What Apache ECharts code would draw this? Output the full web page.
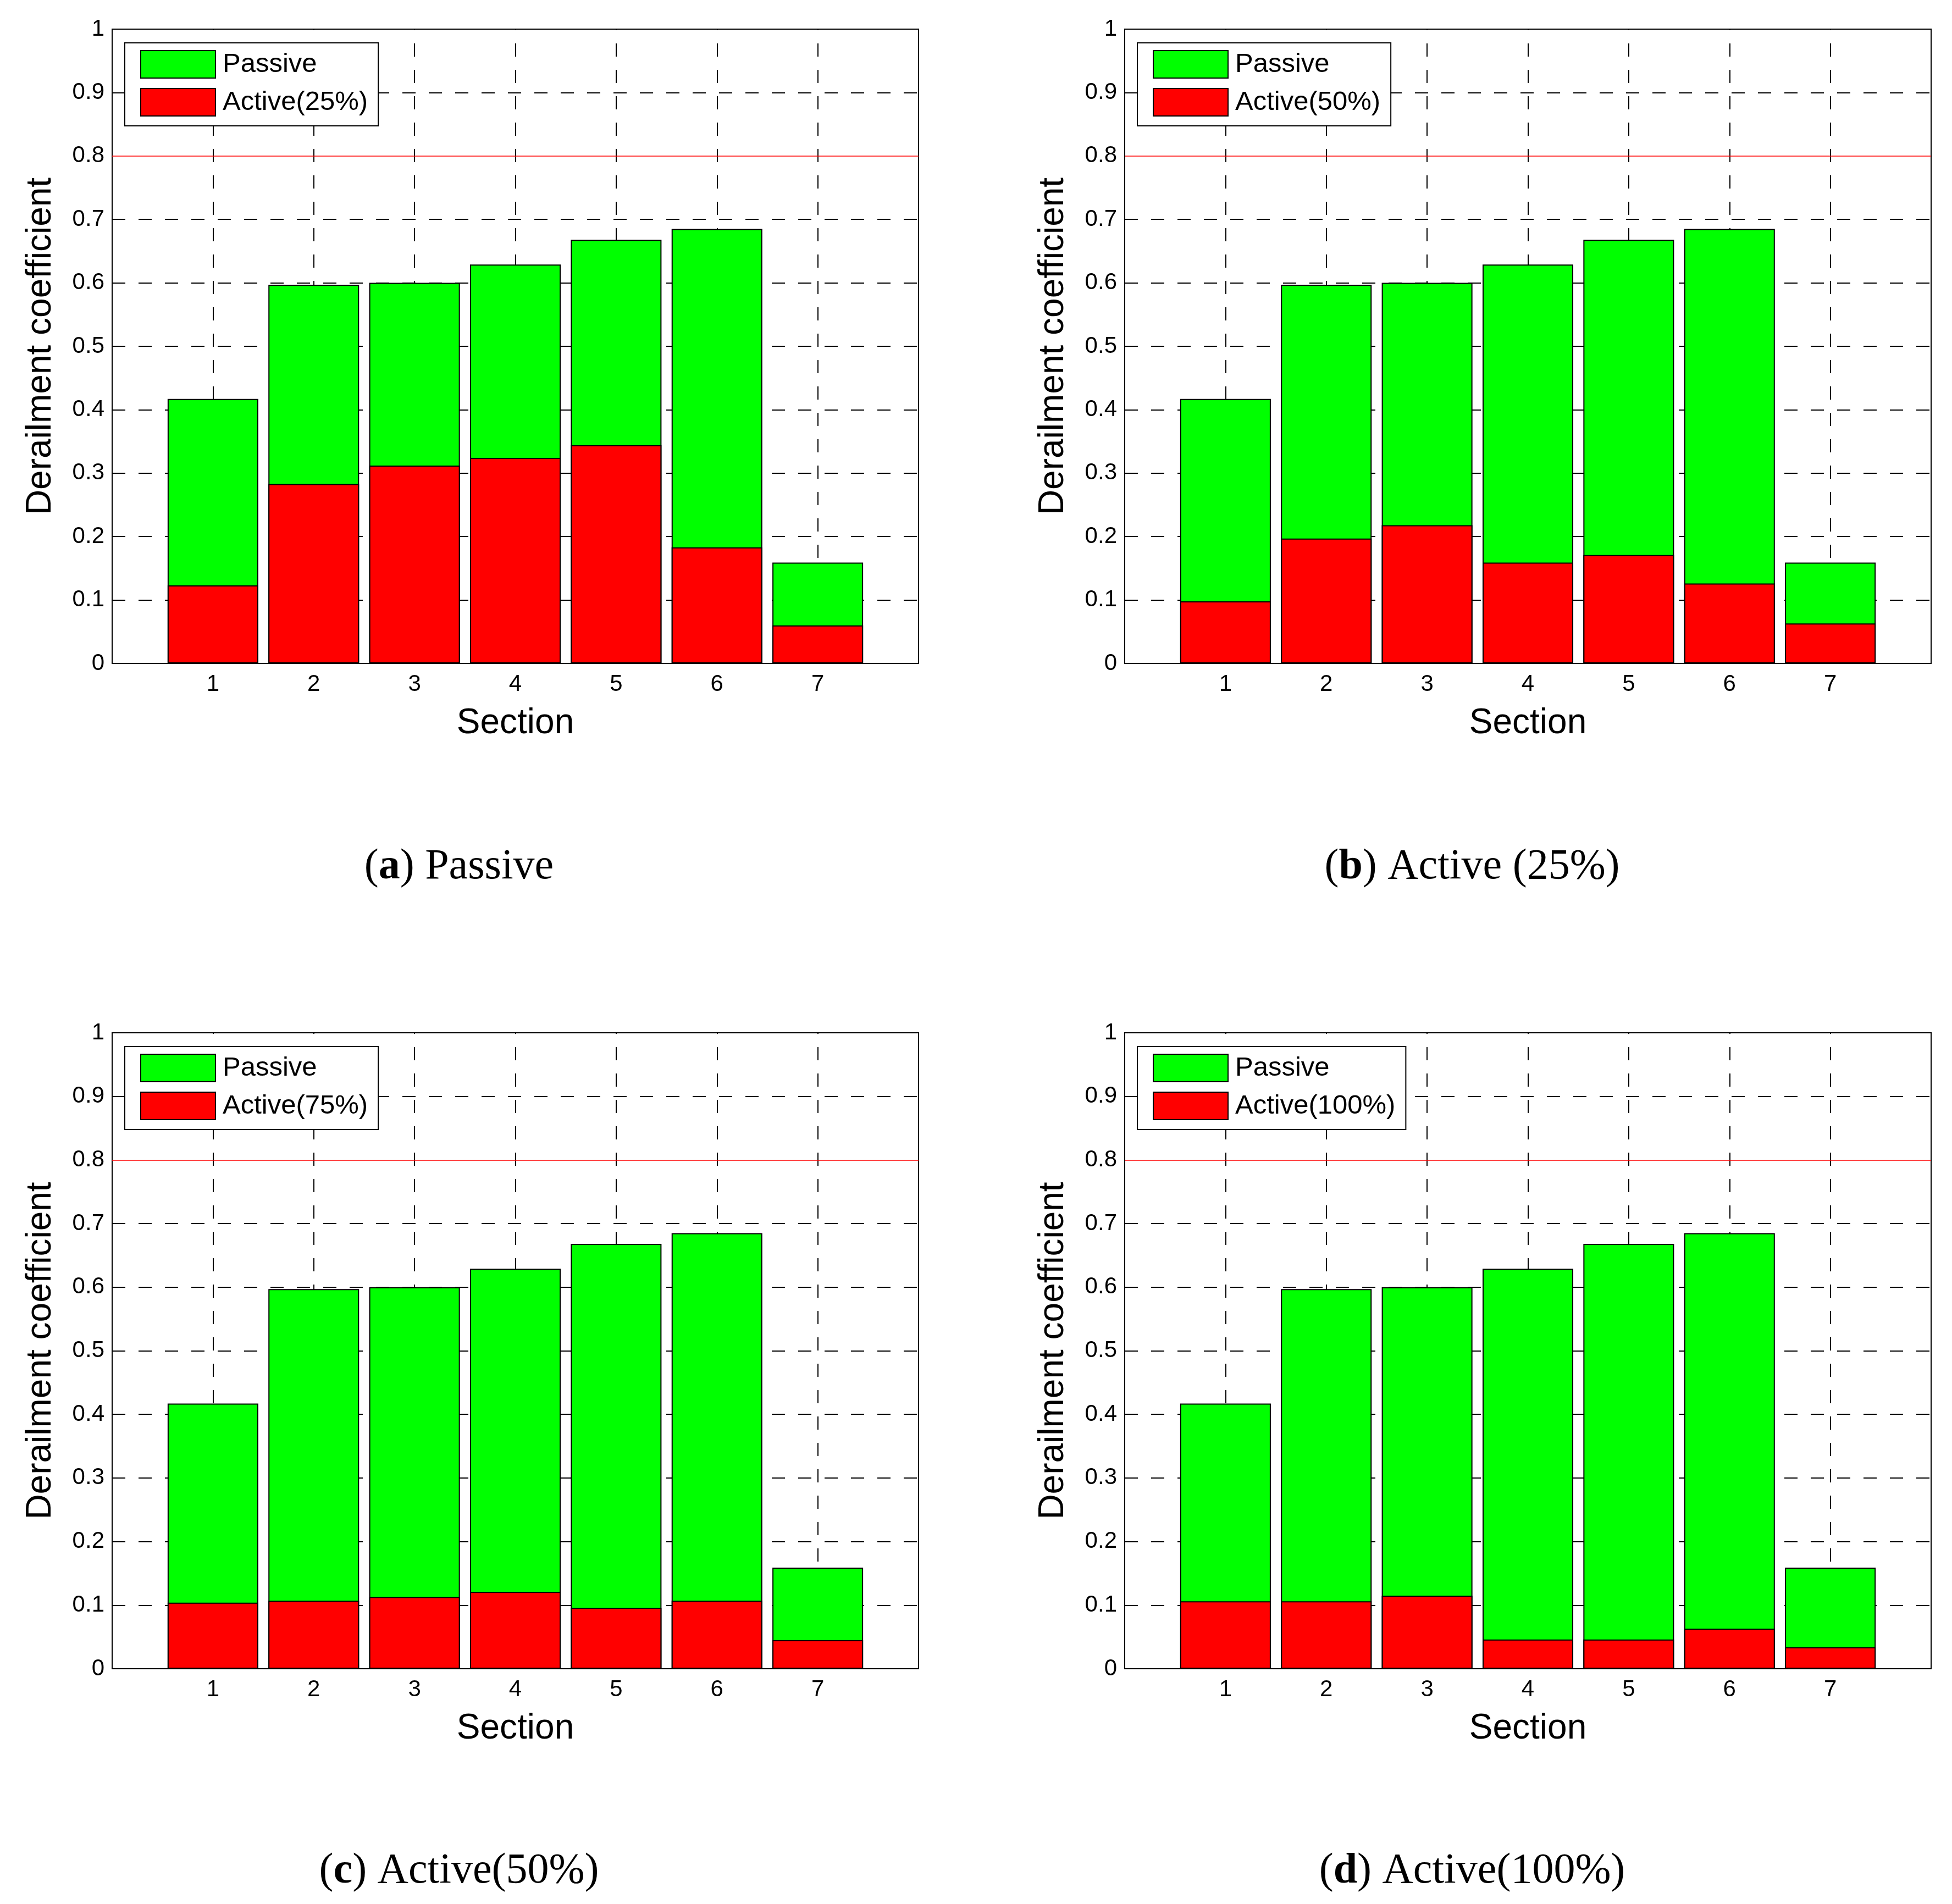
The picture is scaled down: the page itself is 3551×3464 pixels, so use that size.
<!DOCTYPE html>
<html>
<head>
<meta charset="utf-8">
<script src="https://cdn.jsdelivr.net/npm/echarts@6/dist/echarts.min.js"></script>
<style>
html,body{margin:0;padding:0;background:#fff;}
#c{width:3551px;height:3464px;}
</style>
</head>
<body>
<div id="c"></div>
<script>
// ---- data ----
const categories = ['1', '2', '3', '4', '5', '6', '7'];
const passive    = [0.417, 0.597, 0.600, 0.629, 0.668, 0.685, 0.159];
const active25   = [0.123, 0.283, 0.312, 0.324, 0.344, 0.183, 0.060];
const active50   = [0.098, 0.197, 0.218, 0.159, 0.171, 0.126, 0.063];
const active75   = [0.104, 0.107, 0.113, 0.121, 0.096, 0.107, 0.045];
const active100  = [0.106, 0.106, 0.115, 0.046, 0.046, 0.063, 0.034];
const activeNames = ['Active(25%)', 'Active(50%)', 'Active(75%)', 'Active(100%)'];
const captionLetters = ['a', 'b', 'c', 'd'];
const captionTexts = [' Passive', ' Active (25%)', ' Active(50%)', ' Active(100%)'];
const limitValue = 0.8;
const yTicks = [0, 0.1, 0.2, 0.3, 0.4, 0.5, 0.6, 0.7, 0.8, 0.9, 1];

const activeSets = [active25, active50, active75, active100];

// ---- layout ----
const SANS = 'Liberation Sans, Arial, sans-serif';
const SERIF = 'Liberation Serif, Times New Roman, serif';
const grids = [
  {left: 204, top: 53, width: 1467, height: 1154},
  {left: 2046, top: 53, width: 1467, height: 1154},
  {left: 204, top: 1879, width: 1467, height: 1157},
  {left: 2046, top: 1879, width: 1467, height: 1157}
];
const captionPos = [[835, 1578], [2678, 1578], [835, 3405], [2678, 3405]];

const xData = [''].concat(categories, ['']);
function pad(arr) { return ['-'].concat(arr, ['-']); }

const splitColors = yTicks.map(v => Math.abs(v - limitValue) < 1e-9 ? 'rgba(0,0,0,0)' : '#000');

const option = {
  animation: false,
  backgroundColor: '#fff',
  grid: grids.map(g => Object.assign({show: true, borderColor: '#000', borderWidth: 2, backgroundColor: 'rgba(0,0,0,0)', containLabel: false}, g)),
  xAxis: grids.map((g, i) => ({
    type: 'category',
    gridIndex: i,
    data: xData,
    boundaryGap: false,
    axisLine: {show: true, lineStyle: {color: '#000', width: 2}},
    axisTick: {show: false},
    axisLabel: {show: true, interval: 0, fontSize: 42, fontFamily: SANS, color: '#000', margin: 17},
    splitLine: {show: true, interval: 0, lineStyle: {color: '#000', width: 2, type: [24, 24], dashOffset: 22}},
    name: 'Section',
    nameLocation: 'middle',
    nameGap: 77,
    nameTextStyle: {fontSize: 64, fontFamily: SANS, color: '#000'}
  })),
  yAxis: grids.map((g, i) => ({
    type: 'value',
    gridIndex: i,
    min: 0,
    max: 1,
    interval: 0.1,
    axisLine: {show: true, lineStyle: {color: '#000', width: 2}},
    axisTick: {show: false},
    axisLabel: {fontSize: 42, fontFamily: SANS, color: '#000', margin: 14},
    splitLine: {show: true, lineStyle: {color: splitColors, width: 2, type: [24, 24]}},
    name: 'Derailment coefficient',
    nameLocation: 'middle',
    nameGap: 98,
    nameTextStyle: {fontSize: 64, fontFamily: SANS, color: '#000'}
  })),
  legend: grids.map((g, i) => ({
    data: ['Passive', activeNames[i]],
    orient: 'vertical',
    left: g.left + 23,
    top: g.top + 25,
    icon: 'rect',
    itemWidth: 136,
    itemHeight: 50,
    itemGap: 17,
    padding: [13, 19, 17, 28],
    backgroundColor: '#fff',
    borderColor: '#000',
    borderWidth: 2,
    selectedMode: false,
    itemStyle: {borderColor: '#000', borderWidth: 2},
    textStyle: {fontSize: 49, fontFamily: SANS, color: '#000', padding: [4, 0, 0, 8]}
  })),
  series: [],
  graphic: captionPos.map((p, i) => ({
    type: 'text',
    x: p[0],
    y: p[1],
    style: {
      text: '({b|' + captionLetters[i] + '})' + captionTexts[i],
      rich: {b: {fontWeight: 'bold', fontSize: 78, fontFamily: SERIF}},
      fontSize: 78,
      fontFamily: SERIF,
      fill: '#000',
      align: 'center',
      verticalAlign: 'middle',
      textAlign: 'center',
      textVerticalAlign: 'middle'
    }
  }))
};

grids.forEach((g, i) => {
  option.series.push({
    name: 'Passive',
    type: 'bar',
    xAxisIndex: i,
    yAxisIndex: i,
    data: pad(passive),
    barWidth: '90%',
    barGap: '-100%',
    itemStyle: {color: '#00ff00', borderColor: '#000', borderWidth: 2},
    markLine: {
      silent: true,
      symbol: 'none',
      label: {show: false},
      lineStyle: {color: '#ff0000', width: 1.5, type: 'solid'},
      data: [{yAxis: limitValue}]
    }
  });
  option.series.push({
    name: activeNames[i],
    type: 'bar',
    xAxisIndex: i,
    yAxisIndex: i,
    data: pad(activeSets[i]),
    barWidth: '90%',
    barGap: '-100%',
    itemStyle: {color: '#ff0000', borderColor: '#000', borderWidth: 2}
  });
});

const chart = echarts.init(document.getElementById('c'), null, {renderer: 'canvas', width: 3551, height: 3464});
chart.setOption(option);
</script>
</body>
</html>
